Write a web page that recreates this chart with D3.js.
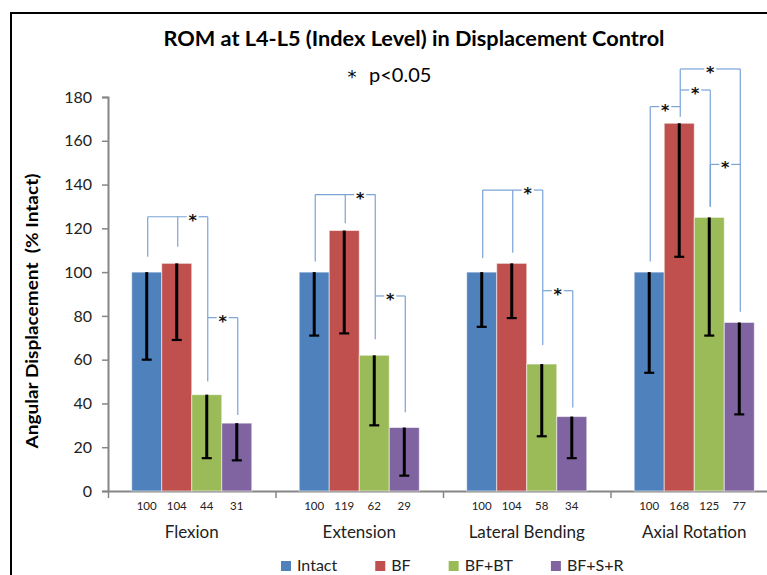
<!DOCTYPE html>
<html>
<head>
<meta charset="utf-8">
<script src="https://cdn.jsdelivr.net/npm/d3@7/dist/d3.min.js"></script>
<style>
  html, body { margin: 0; padding: 0; background: #fff; }
  svg { display: block; }
  text { font-family: Lato, "Open Sans", sans-serif; }
</style>
</head>
<body>
<svg id="chart" width="767" height="575"></svg>
<script>
// Motion groups and implant conditions
const groups = ["Flexion", "Extension", "Lateral Bending", "Axial Rotation"];
const series = ["Intact", "BF", "BF+BT", "BF+S+R"];
const seriesColors = ["#4F81BD", "#C0504D", "#9BBB59", "#8064A2"];

// Mean range of motion (% of intact), one array per condition
const intactVals = [100, 100, 100, 100];
const bfVals     = [104, 119, 104, 168];
const bfbtVals   = [44, 62, 58, 125];
const bfsrVals   = [31, 29, 34, 77];

// Standard deviations (drawn downward only)
const intactSD = [40, 29, 25, 46];
const bfSD     = [35, 47, 25, 61];
const bfbtSD   = [29, 32, 33, 54];
const bfsrSD   = [17, 22, 19, 42];

const yTicks = [0, 20, 40, 60, 80, 100, 120, 140, 160, 180];

// Significance brackets: group index, bracket height (value units),
// legs as [condition index, lower end of leg in value units]
const sigBrackets = [
  { group: 0, top: 125.3, legs: [[0, 107], [1, 111.6], [2, 50]] },
  { group: 0, top: 79.2,  legs: [[2, 79.2], [3, 34.7]] },
  { group: 1, top: 135.4, legs: [[0, 104.8], [1, 122.3], [2, 69.3]] },
  { group: 1, top: 89.1,  legs: [[2, 89.1], [3, 36]] },
  { group: 2, top: 137.5, legs: [[0, 106.3], [1, 108.9], [2, 66.7]] },
  { group: 2, top: 91.5,  legs: [[2, 91.5], [3, 38.2]] },
  { group: 3, top: 175.6, legs: [[0, 104.8], [1, 175.6]] },
  { group: 3, top: 192.8, legs: [[1, 171], [3, 81.9]] },
  { group: 3, top: 183.2, legs: [[1, 183.2], [2, 129.9]] },
  { group: 3, top: 149.2, legs: [[2, 129.9], [3, 149.2]] }
];

const valueSets = [intactVals, bfVals, bfbtVals, bfsrVals];
const sdSets = [intactSD, bfSD, bfbtSD, bfsrSD];

const rows = groups.map((g, gi) => ({
  group: g,
  bars: series.map((s, si) => ({ si, s, v: valueSets[si][gi], sd: sdSets[si][gi] }))
}));

const svg = d3.select("#chart");

// outer frame
svg.append("rect")
  .attr("x", 11).attr("y", 13)
  .attr("width", 800).attr("height", 600)
  .attr("fill", "#fff").attr("stroke", "#000").attr("stroke-width", 2);

const plotLeft = 108, plotRight = 778, plotTop = 97, plotBottom = 491;

const x0 = d3.scaleBand().domain(groups).range([plotLeft, plotRight]).padding(0);
const x1 = d3.scaleBand().domain(series).range([0, x0.bandwidth()])
  .paddingInner(0).paddingOuter(0.79);
const y = d3.scaleLinear().domain([0, 180]).range([plotBottom, plotTop]);
const color = d3.scaleOrdinal().domain(series).range(seriesColors);

// Y axis
const yAxis = svg.append("g")
  .attr("transform", `translate(${plotLeft},0)`)
  .call(d3.axisLeft(y).tickValues(yTicks).tickSize(6).tickPadding(10));
yAxis.select(".domain").attr("stroke", "#868686").attr("stroke-width", 2);
yAxis.selectAll(".tick line").attr("stroke", "#868686").attr("stroke-width", 1.5);
yAxis.selectAll(".tick text")
  .attr("fill", "#222").style("font-size", "16px")
  .style("font-family", "Lato, sans-serif");

// X axis: category boundary ticks
const xEdge = d3.scaleLinear().domain([0, groups.length]).range([plotLeft, plotRight]);
const xAxis = svg.append("g")
  .attr("transform", `translate(0,${plotBottom})`)
  .call(d3.axisBottom(xEdge).tickValues(d3.range(groups.length + 1))
    .tickFormat("").tickSize(7).tickSizeOuter(0));
xAxis.select(".domain").attr("stroke", "#868686").attr("stroke-width", 2);
xAxis.selectAll(".tick line").attr("stroke", "#868686").attr("stroke-width", 1.5);

// Bars
const gGroups = svg.append("g").selectAll("g.grp")
  .data(rows).join("g")
  .attr("class", "grp")
  .attr("transform", d => `translate(${x0(d.group)},0)`);

gGroups.selectAll("rect.bar")
  .data(d => d.bars).join("rect")
  .attr("class", "bar")
  .attr("x", d => x1(d.s))
  .attr("y", d => y(d.v))
  .attr("width", x1.bandwidth())
  .attr("height", d => y(0) - y(d.v))
  .attr("fill", d => color(d.s))
  .attr("stroke", "rgba(255,255,255,0.55)")
  .attr("stroke-width", 1);

// Error bars (lower half)
const errG = gGroups.selectAll("g.err").data(d => d.bars).join("g").attr("class", "err");
errG.append("line")
  .attr("x1", d => x1(d.s) + x1.bandwidth() / 2)
  .attr("x2", d => x1(d.s) + x1.bandwidth() / 2)
  .attr("y1", d => y(d.v))
  .attr("y2", d => y(d.v - d.sd))
  .attr("stroke", "#000").attr("stroke-width", 3);
errG.append("line")
  .attr("x1", d => x1(d.s) + x1.bandwidth() / 2 - 5)
  .attr("x2", d => x1(d.s) + x1.bandwidth() / 2 + 5)
  .attr("y1", d => y(d.v - d.sd))
  .attr("y2", d => y(d.v - d.sd))
  .attr("stroke", "#000").attr("stroke-width", 2.2);

// Value labels under the axis
gGroups.selectAll("text.val")
  .data(d => d.bars).join("text")
  .attr("class", "val")
  .attr("x", d => x1(d.s) + x1.bandwidth() / 2)
  .attr("y", 510)
  .attr("text-anchor", "middle")
  .attr("fill", "#222")
  .style("font-size", "11.5px")
  .text(d => d.v);

// Category labels
svg.append("g").selectAll("text.cat")
  .data(groups).join("text")
  .attr("class", "cat")
  .attr("x", d => x0(d) + x0.bandwidth() / 2)
  .attr("y", 538)
  .attr("text-anchor", "middle")
  .attr("fill", "#222")
  .style("font-size", "17px")
  .text(d => d);

// Significance brackets
const legX = (b, si) => x0(groups[b.group]) + x1(series[si]) + x1.bandwidth() / 2 + 1;
const sigG = svg.append("g");
sigBrackets.forEach(b => {
  const xs = b.legs.map(l => legX(b, l[0]));
  const yTop = y(b.top);
  const xMin = d3.min(xs), xMax = d3.max(xs);
  const n = xs.length;
  const starX = (xs[n - 2] + xs[n - 1]) / 2;
  const gap = 6;
  sigG.append("line")
    .attr("x1", xMin).attr("x2", starX - gap).attr("y1", yTop).attr("y2", yTop);
  sigG.append("line")
    .attr("x1", starX + gap).attr("x2", xMax).attr("y1", yTop).attr("y2", yTop);
  b.legs.forEach((l, i) => {
    sigG.append("line")
      .attr("x1", xs[i]).attr("x2", xs[i])
      .attr("y1", yTop).attr("y2", y(l[1]));
  });
  sigG.append("text")
    .attr("x", starX).attr("y", yTop + 9)
    .attr("text-anchor", "middle")
    .attr("fill", "#111")
    .style("font-family", "'DejaVu Sans', sans-serif")
    .style("font-size", "16px").style("font-weight", "bold")
    .text("*");
});
sigG.selectAll("line").attr("stroke", "#7aa3d6").attr("stroke-width", 1.2);

// Title and significance note
svg.append("text")
  .attr("x", 414).attr("y", 46)
  .attr("text-anchor", "middle")
  .style("font-size", "21px").style("font-weight", "bold")
  .attr("fill", "#000")
  .attr("textLength", 501).attr("lengthAdjust", "spacingAndGlyphs")
  .text("ROM at L4-L5 (Index Level) in Displacement Control");

svg.append("text")
  .attr("x", 352).attr("y", 83)
  .attr("text-anchor", "middle")
  .style("font-family", "'DejaVu Sans', sans-serif")
  .style("font-size", "18px")
  .attr("fill", "#000")
  .text("*");
svg.append("text")
  .attr("x", 369).attr("y", 82)
  .style("font-size", "20px")
  .attr("fill", "#000")
  .text("p<0.05");

// Y axis title
svg.append("text")
  .attr("transform", "translate(38,311) rotate(-90)")
  .attr("text-anchor", "middle")
  .style("font-size", "17px").style("font-weight", "bold")
  .style("white-space", "pre")
  .attr("textLength", 275).attr("lengthAdjust", "spacingAndGlyphs")
  .attr("fill", "#000")
  .text("Angular Displacement  (% Intact)");

// Legend
const legend = svg.append("g").attr("transform", "translate(281,566)");
let lx = 0;
series.forEach((s, i) => {
  const item = legend.append("g").attr("transform", `translate(${lx},0)`);
  item.append("rect").attr("x", 0).attr("y", -5).attr("width", 10).attr("height", 10)
    .attr("fill", seriesColors[i]);
  const t = item.append("text").attr("x", 16).attr("y", 5)
    .attr("fill", "#222").style("font-size", "16px").text(s);
  lx += 16 + t.node().getComputedTextLength() + 38;
});
</script>
</body>
</html>
